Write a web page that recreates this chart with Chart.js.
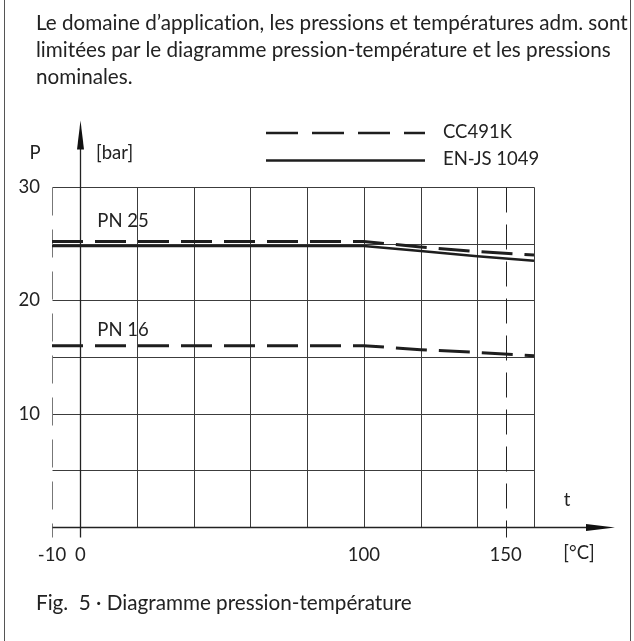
<!DOCTYPE html>
<html><head><meta charset="utf-8">
<script src="https://cdn.jsdelivr.net/npm/chart.js@4"></script>
<style>
html,body{margin:0;padding:0;background:#fff;}
#wrap{position:relative;width:634px;height:641px;overflow:hidden;background:#fff;}
#c{position:absolute;left:0;top:0;}
.txt{position:absolute;left:36px;font-family:Lato,"Open Sans",sans-serif;color:#222;white-space:nowrap;line-height:28px;font-size:18px;font-variant-ligatures:none;font-feature-settings:"liga" 0;}
.frame{position:absolute;top:0;height:641px;width:1px;background:#555;}
</style></head>
<body><div id="wrap">
<canvas id="c" width="634" height="641"></canvas>
<div class="frame" style="left:4px"></div><div class="frame" style="left:630px"></div>
<div class="txt" id="l1" style="top:8px">Le domaine d’application, les pressions et températures adm. sont</div>
<div class="txt" id="l2" style="top:35px">limitées par le diagramme pression-température et les pressions</div>
<div class="txt" id="l3" style="top:62px">nominales.</div>
<div class="txt" id="cap" style="top:588px">Fig.&nbsp; 5 · Diagramme pression-température</div>
</div>
<script>
// ---- data ----
const temperatures = [-10, 100, 120, 140, 160];
const cc491kPN25 = [25.2, 25.2, 24.7, 24.3, 24.0];
const cc491kPN16 = [16.0, 16.0, 15.65, 15.4, 15.1];
const enjs1049PN25 = [24.8, 24.8, 24.35, 23.9, 23.5];
const seriesNames = ['CC491K', 'EN-JS 1049'];
const xTickLabels = [-10, 0, 100, 150];
const yTickLabels = [10, 20, 30];
const xGridValues = [20, 40, 60, 80, 100, 120, 140, 160];
const yGridValues = [5, 10, 15, 20, 25, 30];
const pnLabels = [{text: 'PN 25', t: 6, p: 27}, {text: 'PN 16', t: 6, p: 17.4}];

// fit paragraph widths
(function fit(){
  const l1 = document.getElementById('l1');
  const w = l1.getBoundingClientRect().width;
  const fs = 18 * 592 / w;
  ['l1','l2','l3'].forEach(id => document.getElementById(id).style.fontSize = fs + 'px');
  const cap = document.getElementById('cap');
  const wc = cap.getBoundingClientRect().width;
  cap.style.fontSize = (18 * 376 / wc) + 'px';
})();

const pts = arr => temperatures.map((t, i) => ({x: t, y: arr[i]}));
const INK = '#1e1e1e';
const FSIZE = 18.5;
const FONT = FSIZE + 'px Lato, "Open Sans", sans-serif';

const drawPlugin = {
  id: 'diagram',
  beforeDatasetsDraw(chart) {
    const ctx = chart.ctx, xs = chart.scales.x, ys = chart.scales.y;
    const X = v => Math.round(xs.getPixelForValue(v)) + 0.5;
    const Y = v => Math.round(ys.getPixelForValue(v)) + 0.5;
    const line = (x1, y1, x2, y2) => { ctx.beginPath(); ctx.moveTo(x1, y1); ctx.lineTo(x2, y2); ctx.stroke(); };
    ctx.save();
    ctx.strokeStyle = '#3c3c3c'; ctx.lineWidth = 1;
    yGridValues.forEach(p => line(X(-10), Y(p), X(160), Y(p)));
    xGridValues.forEach(t => line(X(t), Y(30), X(t), Y(0)));
    // -10 dashed limit
    ctx.strokeStyle = '#777'; ctx.setLineDash([28, 14]);
    line(X(-10), Y(30), X(-10), Y(0) + 10);
    // 150 dashed limit
    ctx.strokeStyle = '#222'; ctx.setLineDash([25, 12]);
    line(X(150), Y(30), X(150), Y(0) + 10);
    ctx.setLineDash([]);
    // axes
    ctx.strokeStyle = '#222'; ctx.fillStyle = '#111'; ctx.lineWidth = 1.3;
    const x0 = X(0), y0 = Y(0);
    const top = Y(30);
    line(x0, y0 + 10, x0, top - 40);
    ctx.beginPath(); ctx.moveTo(x0, top - 67); ctx.lineTo(x0 - 3.5, top - 38); ctx.lineTo(x0 + 3.5, top - 38); ctx.closePath(); ctx.fill();
    const right = chart.chartArea.right;
    line(X(-10), y0, right + 55, y0);
    ctx.beginPath(); ctx.moveTo(right + 81, y0); ctx.lineTo(right + 52, y0 - 3.5); ctx.lineTo(right + 52, y0 + 3.5); ctx.closePath(); ctx.fill();
    ctx.restore();
  },
  afterDraw(chart) {
    const ctx = chart.ctx, xs = chart.scales.x, ys = chart.scales.y;
    const X = v => xs.getPixelForValue(v), Y = v => ys.getPixelForValue(v);
    const area = chart.chartArea;
    ctx.save();
    ctx.fillStyle = '#222'; ctx.font = FONT; ctx.textBaseline = 'middle';
    ctx.textAlign = 'center';
    ctx.fillText('P', 35, area.top - 34);
    ctx.textAlign = 'left';
    ctx.fillText('[bar]', 96, area.top - 34);
    pnLabels.forEach(l => ctx.fillText(l.text, X(l.t), Y(l.p)));
    ctx.textAlign = 'center';
    ctx.fillText('t', area.right + 33, Y(0) - 27);
    ctx.fillText('[°C]', area.right + 45, Y(0) + 26);
    // legend
    ctx.strokeStyle = INK; ctx.lineWidth = 2.3;
    const lx1 = 266, lx2 = 425;
    [[133, [32, 14]], [160.5, []]].forEach(([ly, dash], i) => {
      ctx.setLineDash(dash);
      ctx.beginPath(); ctx.moveTo(lx1, ly); ctx.lineTo(lx2, ly); ctx.stroke();
      ctx.textAlign = 'left';
      ctx.fillText(seriesNames[i], 443, ly - 1);
    });
    ctx.restore();
  }
};

new Chart(document.getElementById('c'), {
  type: 'line',
  data: {
    datasets: [
      {label: seriesNames[0] + ' PN 25', data: pts(cc491kPN25), borderColor: INK, borderWidth: 3, borderDash: [31, 12], pointRadius: 0, tension: 0},
      {label: seriesNames[0] + ' PN 16', data: pts(cc491kPN16), borderColor: INK, borderWidth: 3, borderDash: [31, 12], pointRadius: 0, tension: 0},
      {label: seriesNames[1] + ' PN 25', data: pts(enjs1049PN25), borderColor: INK, borderWidth: 2.5, pointRadius: 0, tension: 0}
    ]
  },
  options: {
    responsive: false, animation: false, devicePixelRatio: 1,
    layout: {padding: {top: 187, right: 100, bottom: 0, left: 0}},
    plugins: {legend: {display: false}, tooltip: {enabled: false}},
    scales: {
      x: {
        type: 'linear', min: -10, max: 160,
        grid: {display: false, drawTicks: false}, border: {display: false},
        afterBuildTicks: s => { s.ticks = xTickLabels.map(v => ({value: v})); },
        afterFit: s => { s.height = 114; },
        ticks: {padding: 17, color: '#222', font: {family: 'Lato', size: FSIZE}, maxRotation: 0, autoSkip: false}
      },
      y: {
        type: 'linear', min: 0, max: 30,
        grid: {display: false, drawTicks: false}, border: {display: false},
        afterBuildTicks: s => { s.ticks = yTickLabels.map(v => ({value: v})); },
        afterFit: s => { s.width = 52; },
        ticks: {padding: 12, color: '#222', font: {family: 'Lato', size: FSIZE}}
      }
    }
  },
  plugins: [drawPlugin]
});
</script>
</body></html>
